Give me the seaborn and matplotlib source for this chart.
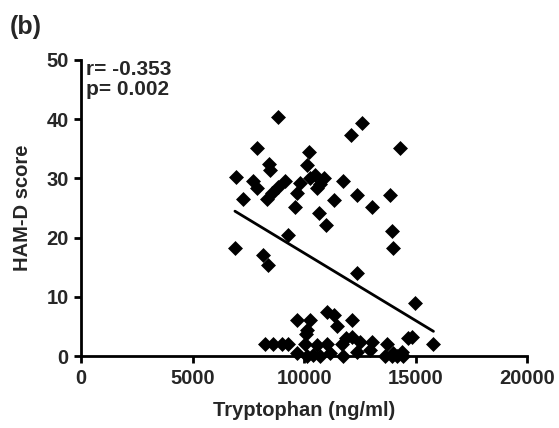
import numpy as np
import pandas as pd
import seaborn as sns
import matplotlib.pyplot as plt

# values
tryptophan = [
    8850, 12590, 12090, 7880, 10220, 14300, 8440, 8480, 10150, 6950,
    7730, 7880, 9150, 8850, 8550, 8330, 9670, 9600, 7250, 10270,
    10870, 10570, 9820, 10500, 10700, 11760, 11320, 12390, 13030, 13860,
    10690, 10990, 9300, 6900, 8170, 8400, 13930, 13970, 12360, 14980,
    9670, 10270, 11020, 11320, 12140, 11460, 10120, 10090,
    8250, 8620, 9000, 9300, 10040, 10570, 11020, 11690, 12140, 12510,
    13030, 13710, 14680, 14830, 15800, 11900,
    9670, 10120, 10720, 11170, 11760, 12360, 12960, 14000, 14380, 13630,
    13930, 14150, 14450, 10400,
]
hamd = [
    40.3, 39.3, 37.4, 35.2, 34.4, 35.2, 32.5, 31.4, 32.3, 30.2,
    29.5, 28.3, 29.6, 28.6, 27.6, 26.6, 27.5, 25.2, 26.5, 30.0,
    30.0, 28.3, 29.2, 30.5, 29.0, 29.5, 26.4, 27.2, 25.2, 27.2,
    24.1, 22.1, 20.4, 18.2, 17.1, 15.4, 21.2, 18.2, 14.1, 9.0,
    6.1, 6.1, 7.5, 6.9, 6.1, 5.0, 4.4, 3.8,
    2.1, 2.1, 2.1, 2.1, 2.1, 1.9, 2.1, 2.1, 3.3, 2.4,
    2.4, 2.1, 3.0, 3.3, 2.0, 3.0,
    0.5, 0.0, 0.0, 0.5, 0.0, 0.7, 1.0, 0.5, 0.7, 0.0,
    0.0, 0.0, 0.0, 0.2,
]
x_ticks = [0, 5000, 10000, 15000, 20000]
y_ticks = [0, 10, 20, 30, 40, 50]

df = pd.DataFrame({"trp": tryptophan, "ham": hamd})

sns.set_style("ticks")
plt.rcParams["font.family"] = ["Liberation Sans", "DejaVu Sans"]
plt.rcParams["font.weight"] = "bold"

fig = plt.figure(figsize=(5.59, 4.28), dpi=100)
ax = fig.add_axes([0.145, 0.168, 0.798, 0.692])

sns.regplot(data=df, x="trp", y="ham", ax=ax, ci=None, marker="D",
            scatter_kws=dict(s=58, color="black", alpha=1, clip_on=False,
                             zorder=3, linewidths=0),
            line_kws=dict(color="black", lw=2))

ax.set_xlim(0, 20000)
ax.set_ylim(0, 50)
ax.set_xticks(x_ticks)
ax.set_yticks(y_ticks)
sns.despine(ax=ax)
for s in ["left", "bottom"]:
    ax.spines[s].set_linewidth(2)
    ax.spines[s].set_color("black")
ax.tick_params(width=2, length=5, labelsize=14.5, pad=4, color="black")
for lab in ax.get_xticklabels() + ax.get_yticklabels():
    lab.set_fontweight("bold")

ax.set_xlabel("Tryptophan (ng/ml)", fontsize=14.5, fontweight="bold", labelpad=10)
ax.set_ylabel("HAM-D score", fontsize=14.5, fontweight="bold", labelpad=10)

ax.text(0.012, 1.0, "r= -0.353\np= 0.002", transform=ax.transAxes,
        fontsize=15, fontweight="bold", va="top", ha="left", linespacing=1.1)
fig.text(0.018, 0.965, "(b)", fontsize=18, fontweight="bold", va="top", ha="left")

fig.savefig("out.png", dpi=100)
